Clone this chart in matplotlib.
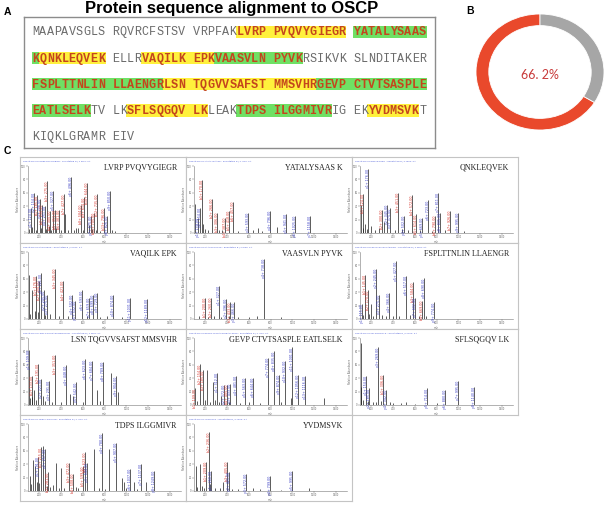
import matplotlib
matplotlib.use("Agg")
import matplotlib.pyplot as plt
from matplotlib.patches import Rectangle

W, H = 608, 505

# OSCP sequence, 5 lines of 50 residues (last one shorter)
SEQ_LINES = ["MAAPAVSGLSRQVRCFSTSVVRPFAKLVRPPVQVYGIEGRYATALYSAAS",
             "KQNKLEQVEKELLRVAQILKEPKVAASVLNPYVKRSIKVKSLNDITAKER",
             "FSPLTTNLINLLAENGRLSNTQGVVSAFSTMMSVHRGEVPCTVTSASPLE",
             "EATLSELKTVLKSFLSQGQVLKLEAKTDPSILGGMIVRIGEKYVDMSVKT",
             "KIQKLGRAMREIV"]
SEQUENCE = "".join(SEQ_LINES)

PEPTIDES = ["LVRPPVQVYGIEGR", "YATALYSAASK", "QNKLEQVEK", "VAQILKEPK",
            "VAASVLNPYVK", "FSPLTTNLINLLAENGR", "LSNTQGVVSAFSTMMSVHR",
            "GEVPCTVTSASPLEEATLSELK", "SFLSQGQVLK", "TDPSILGGMIVR", "YVDMSVK"]
PEP_HL = ["y", "g", "y", "y", "g", "g", "y", "g", "y", "g", "y"]

# spectra (m/z, relative intensity, ion label colour r/b/k)
MZ1 = [124, 154, 185, 206, 230, 251, 275, 300, 327, 351, 381, 427, 442, 496, 542, 584, 614, 644,
       675, 705, 735, 796, 826, 850,
       110, 140, 170, 215, 265, 290, 315, 360, 400, 470, 520, 560, 600, 660, 690, 720, 760, 870, 900]
INT1 = [37, 60, 56, 51, 42, 40, 77, 33, 63, 35, 35, 58, 28, 84, 7, 42, 53, 75, 26, 30, 58, 37, 26, 63,
        6, 9, 5, 8, 6, 10, 5, 7, 4, 5, 4, 8, 5, 12, 6, 4, 3, 5, 3]
ION1 = "bbrbrbrrbrrrkbkrrrbrrrbb" + "k" * 19

MZ2 = [109, 139, 154, 170, 185, 266, 306, 387, 418, 457, 593, 690, 796, 856, 941, 1025, 1158,
       200, 230, 330, 360, 500, 640, 720]
INT2 = [44, 23, 37, 79, 14, 51, 30, 23, 33, 47, 30, 7, 33, 9, 28, 26, 26,
        6, 4, 5, 4, 3, 4, 3]
ION2 = "kbbrkrrrrrbkbkbbb" + "k" * 7

MZ3 = [105, 124, 148, 176, 300, 321, 345, 375, 451, 502, 572, 614, 669, 723, 790, 811, 835, 926, 995,
       130, 160, 200, 240, 270, 420, 480, 540, 650, 760, 880, 1050]
INT3 = [42, 58, 14, 95, 35, 16, 42, 37, 60, 26, 56, 28, 23, 49, 26, 60, 30, 33, 30,
        8, 6, 10, 5, 7, 4, 6, 5, 4, 3, 4, 3]
ION3 = "krkbrkbbrbrrbbrbbrb" + "k" * 12

MZ4 = [109, 139, 176, 200, 221, 245, 275, 345, 421, 502, 532, 593, 659, 699, 729, 874, 1031, 1189,
       120, 160, 190, 260, 300, 380, 470, 640, 760, 820, 960]
INT4 = [66, 43, 64, 57, 68, 43, 36, 75, 57, 36, 27, 43, 32, 36, 39, 36, 32, 30,
        8, 12, 10, 6, 8, 5, 4, 5, 3, 4, 3]
ION4 = "kkrrbbbrrbbbbbbbbb" + "k" * 11

MZ5 = [200, 260, 327, 396, 433, 466, 738, 150, 230, 280, 350, 420, 500, 600, 680, 900]
INT5 = [32, 32, 50, 30, 25, 25, 90, 4, 3, 4, 3, 5, 3, 3, 4, 3]
ION5 = "rrbbrbb" + "k" * 9

MZ6 = [115, 145, 170, 200, 245, 275, 366, 427, 517, 584, 602, 669, 690, 774,
       130, 180, 220, 300, 340, 400, 460, 560, 640, 700]
INT6 = [23, 66, 43, 23, 75, 36, 39, 86, 64, 55, 32, 27, 61, 25,
        6, 8, 5, 6, 4, 5, 4, 6, 4, 5]
ION6 = "brrkbbbbbrbrbb" + "k" * 10

MZ7 = [109, 133, 154, 191, 221, 239, 291, 351, 448, 487, 511, 542, 623, 684, 735, 789, 856, 904, 926,
       120, 140, 170, 260, 320, 400, 600, 760]
INT7 = [82, 43, 23, 61, 39, 14, 36, 75, 59, 16, 14, 34, 68, 66, 23, 64, 48, 43, 20,
        10, 12, 8, 6, 4, 5, 4, 6]
ION7 = "brkrbkbrbkkbbbkbkbk" + "k" * 8

MZ8 = [109, 154, 185, 221, 275, 312, 345, 372, 405, 433, 481, 563, 644, 774, 835, 874, 932, 986,
       1001, 1056, 1116, 1288,
       130, 200, 250, 290, 330, 420, 520, 600, 700, 900]
INT8 = [25, 61, 52, 52, 34, 48, 14, 30, 30, 32, 43, 41, 41, 70, 80, 45, 66, 11, 86, 45, 43, 11,
        6, 8, 5, 7, 5, 4, 3, 4, 3, 4]
ION8 = "rrrkkbkbrbbbbbbbbkbbbk" + "k" * 10

MZ9 = [106, 109, 154, 185, 269, 306, 342, 372, 472, 517, 714, 805, 880, 995, 1140,
       130, 170, 220, 250, 290, 400, 600]
INT9 = [93, 27, 43, 25, 86, 45, 23, 5, 3, 5, 25, 3, 23, 36, 27,
        8, 6, 5, 4, 6, 3, 2]
ION9 = "kkbbbrbkkkbkbbb" + "k" * 7

MZ10 = [115, 145, 167, 191, 215, 236, 257, 281, 357, 402, 472, 508, 599, 623, 644, 705, 780, 841,
        907, 962, 983, 1037, 1068, 1137, 1183, 1249,
        125, 180, 200, 270, 300, 330, 380, 430, 540, 560, 750, 800, 1000, 1100]
INT10 = [23, 47, 37, 51, 65, 67, 63, 28, 42, 35, 42, 26, 37, 58, 42, 63, 86, 63, 72, 19, 14, 33,
         14, 40, 14, 30,
         10, 14, 12, 8, 6, 9, 5, 4, 6, 5, 4, 3, 4, 3]
ION10 = "kkkbrkbrkkrrrrbkbkbkkbkbkb" + "k" * 14

MZ11 = [118, 154, 209, 236, 260, 336, 366, 405, 421, 572, 638, 799, 995, 1152,
        130, 170, 190, 250, 290, 450, 500, 700, 900]
INT11 = [37, 40, 44, 88, 30, 5, 14, 44, 28, 26, 4, 23, 30, 4,
         6, 8, 5, 10, 4, 3, 3, 3, 2]
ION11 = "kkrrbkkrbbkbbk" + "k" * 9

SPECTRA = [(MZ1, INT1, ION1), (MZ2, INT2, ION2), (MZ3, INT3, ION3),
           (MZ4, INT4, ION4), (MZ5, INT5, ION5), (MZ6, INT6, ION6),
           (MZ7, INT7, ION7), (MZ8, INT8, ION8), (MZ9, INT9, ION9),
           (MZ10, INT10, ION10), (MZ11, INT11, ION11)]

HL_COLORS = {"y": "#fff13c", "g": "#6fe064"}
SEQ_GRAY = "#6a6a6a"
SEQ_HIT = "#c4451d"
RED = "#e9492c"
GRAY = "#a6a6a6"
ION_COLORS = {"r": "#d8352b", "b": "#3b3fc4"}


def px_axes(fig, left, top, width, height):
    return fig.add_axes([left / W, 1 - (top + height) / H, width / W, height / H])


def spaced(pep):
    # peptide written with the sequence's 10-residue block breaks
    start = SEQUENCE.find(pep)
    out = ""
    for i, ch in enumerate(pep):
        if i > 0 and (start + i) % 10 == 0:
            out += " "
        out += ch
    return out


def draw_sequence(fig):
    ax = px_axes(fig, 24, 17, 411, 131)
    ax.set_xlim(0, 411)
    ax.set_ylim(131, 0)
    ax.set_xticks([])
    ax.set_yticks([])
    for s in ax.spines.values():
        s.set_color("#8c8c8c")
        s.set_linewidth(1.0)

    pitch = 7.3

    def col_x(pos):
        c = pos % 50
        return 8 + (c + c // 10) * pitch

    def line_y(pos):
        return 15 + (pos // 50) * 26.2

    cover = [None] * len(SEQUENCE)
    for pep, hl in zip(PEPTIDES, PEP_HL):
        start = SEQUENCE.find(pep)
        end = start + len(pep) - 1
        for i in range(start, end + 1):
            cover[i] = hl
        for line in range(start // 50, end // 50 + 1):
            a = max(start, line * 50)
            b = min(end, line * 50 + 49)
            x0 = col_x(a) - 0.5
            x1 = col_x(b) + pitch + 0.5
            ax.add_patch(Rectangle((x0, line_y(a) - 6.5), x1 - x0, 12.5,
                                   facecolor=HL_COLORS[hl], edgecolor="none"))

    for i, ch in enumerate(SEQUENCE):
        hit = cover[i] is not None
        ax.text(col_x(i) + pitch / 2, line_y(i) + 3.4, ch, ha="center", va="baseline",
                family="Liberation Mono", fontsize=8.5,
                weight="bold" if hit else "normal",
                color=SEQ_HIT if hit else SEQ_GRAY)


def draw_donut(fig):
    covered = sum(len(p) for p in PEPTIDES)
    total = len(SEQUENCE)
    ax = px_axes(fig, 476, 14, 128, 116)
    ax.pie([covered, total - covered], colors=[RED, GRAY], startangle=90,
           counterclock=True, radius=1.0,
           wedgeprops=dict(width=0.2, edgecolor="white", linewidth=0.6))
    ax.set_aspect("auto")
    ax.set_xlim(-1, 1)
    ax.set_ylim(-1, 1)
    pct = "%.1f" % (100.0 * covered / total)
    ax.text(0, -0.05, pct.replace(".", ". ") + "%", ha="center", va="center",
            fontsize=9, color="#c83a3a", family="Lato")


def draw_spectrum(fig, k, mz, inten, ion):
    col, row = k % 3, k // 3
    left = 20 + col * 166
    top = 157 + row * 86

    frame = px_axes(fig, left, top, 166, 86)
    frame.set_xticks([])
    frame.set_yticks([])
    for s in frame.spines.values():
        s.set_color("#c4c4c4")
        s.set_linewidth(0.8)
    pep = PEPTIDES[k]
    frame.text(0.02, 0.96, "Spectrum of " + pep + " : annotated b / y ions, 2+",
               transform=frame.transAxes, fontsize=1.7, color="#4455d6",
               ha="left", va="top")
    frame.text(0.945, 0.875, spaced(pep), transform=frame.transAxes, ha="right",
               va="center", family="Liberation Serif", fontsize=5.8, color="#222222")

    ax = px_axes(fig, left + 8, top + 9, 153, 67)
    ax.patch.set_alpha(0)
    ax.vlines(mz, 0, inten, colors="#1c1c1c", linewidth=0.5)
    nb, ny = 1, 1
    for m, h, c in zip(mz, inten, ion):
        if c == "r":
            lab = "b%d+ %.2f" % (nb, m)
            nb += 1
        elif c == "b":
            lab = "y%d+ %.2f" % (ny, m)
            ny += 1
        else:
            continue
        ax.text(m, h, lab, rotation=90, ha="center", va="top", fontsize=2.3,
                color=ION_COLORS[c])
    ax.set_xlim(100, 1500)
    ax.set_ylim(0, 100)
    ax.set_xticks(range(200, 1500, 200))
    ax.set_yticks(range(0, 101, 20))
    ax.tick_params(length=1.2, width=0.3, labelsize=1.8, pad=0.6, colors="#666666")
    for side in ["top", "right"]:
        ax.spines[side].set_visible(False)
    for side in ["left", "bottom"]:
        ax.spines[side].set_color("#777777")
        ax.spines[side].set_linewidth(0.4)
    ax.set_xlabel("m/z", fontsize=1.8, labelpad=0.3, color="#666666")
    ax.set_ylabel("Relative Abundance", fontsize=1.8, labelpad=0.5, color="#666666")


fig = plt.figure(figsize=(W / 100, H / 100), dpi=100)

fig.text(232 / W, 1 - 8 / H, "Protein sequence alignment to OSCP", ha="center",
         va="center", fontsize=12, weight="bold", family="Liberation Sans")
fig.text(4 / W, 1 - 12 / H, "A", ha="left", va="center", fontsize=7.5,
         weight="bold", family="Liberation Sans")
fig.text(466 / W, 1 - 11 / H, "B", ha="left", va="center", fontsize=7.5,
         weight="bold", family="Liberation Sans")
fig.text(4 / W, 1 - 151 / H, "C", ha="left", va="center", fontsize=7.5,
         weight="bold", family="Liberation Sans")

draw_sequence(fig)
draw_donut(fig)
for k, (mz, inten, ion) in enumerate(SPECTRA):
    draw_spectrum(fig, k, mz, inten, ion)

fig.savefig("out.png", dpi=100)
